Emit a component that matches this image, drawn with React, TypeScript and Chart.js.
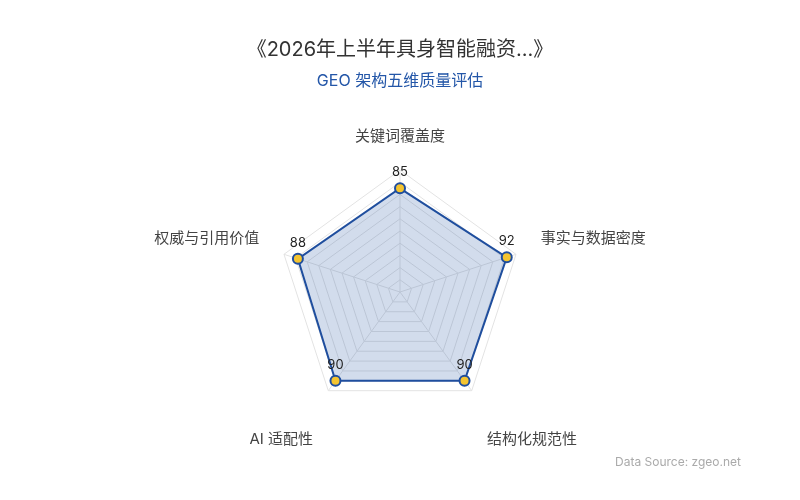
import React, { useEffect, useRef } from 'react';
import Chart from 'chart.js/auto';

// Radar axes and the scores
const axisNames = ['关键词覆盖度', '事实与数据密度', '结构化规范性', 'AI 适配性', '权威与引用价值'];
const scores = [85, 92, 90, 90, 88];

const titleText = '《2026年上半年具身智能融资...》';
const subtitleText = 'GEO 架构五维质量评估';
const sourceText = 'Data Source: zgeo.net';

const FONT = "Inter, 'Noto Sans CJK SC', sans-serif";
const BLUE = '#1f4e9e';

const App: React.FC = () => {
  const canvasRef = useRef<HTMLCanvasElement>(null);
  const chartRef = useRef<any>(null);

  useEffect(() => {
    document.body.style.margin = '0';
    if (!canvasRef.current) return;

    // axis names, value labels and the source note
    const overlayPlugin = {
      id: 'radarOverlay',
      afterDraw: (chart: any) => {
        const { ctx } = chart;
        const scale = chart.scales.r;
        ctx.save();

        ctx.font = `15px ${FONT}`;
        ctx.fillStyle = '#444444';
        axisNames.forEach((name, i) => {
          const p = scale.getPointPosition(i, scale.drawingArea + 26);
          const dx = p.x - scale.xCenter;
          const dy = p.y - scale.yCenter;
          ctx.textAlign = Math.abs(dx) < 1 ? 'center' : dx > 0 ? 'left' : 'right';
          if (dy > 0) {
            ctx.textBaseline = 'top';
            ctx.fillText(name, p.x, p.y + 20);
          } else {
            ctx.textBaseline = 'bottom';
            ctx.fillText(name, p.x, p.y);
          }
        });

        const meta = chart.getDatasetMeta(0);
        ctx.font = `13px ${FONT}`;
        ctx.fillStyle = '#222222';
        ctx.textAlign = 'center';
        ctx.textBaseline = 'middle';
        meta.data.forEach((pt: any, i: number) => {
          ctx.fillText(String(scores[i]), pt.x, pt.y - 16);
        });

        ctx.font = `12px ${FONT}`;
        ctx.fillStyle = '#aaaaaa';
        ctx.textAlign = 'right';
        ctx.fillText(sourceText, 741, 462);
        ctx.restore();
      }
    };

    chartRef.current = new Chart(canvasRef.current, {
      type: 'radar',
      data: {
        labels: axisNames,
        datasets: [{
          label: 'score',
          data: scores,
          borderColor: BLUE,
          borderWidth: 2,
          backgroundColor: 'rgba(31, 78, 158, 0.2)',
          fill: true,
          pointRadius: 5,
          pointBorderWidth: 2,
          pointBackgroundColor: '#f4c430',
          pointBorderColor: BLUE,
        }],
      },
      options: {
        responsive: true,
        maintainAspectRatio: false,
        animation: false,
        layout: { padding: { top: 0, bottom: 86, left: 0, right: 0 } },
        scales: {
          r: {
            min: 0,
            max: 100,
            ticks: { display: false, stepSize: 10 },
            grid: { color: '#e3e3e3', lineWidth: 1 },
            angleLines: { color: '#e3e3e3' },
            pointLabels: { display: false },
          },
        },
        plugins: {
          legend: { display: false },
          tooltip: { enabled: false },
          title: {
            display: true,
            text: titleText,
            color: '#333333',
            font: { size: 20, weight: 'normal', family: FONT, lineHeight: 1.2 },
            padding: { top: 38, bottom: 0 },
          },
          subtitle: {
            display: true,
            text: subtitleText,
            color: '#2356a8',
            font: { size: 16, weight: 'normal', family: FONT, lineHeight: 1.2 },
            padding: { top: 9.4, bottom: 79.4 },
          },
        },
      },
      plugins: [overlayPlugin],
    });

    return () => {
      if (chartRef.current) { chartRef.current.destroy(); chartRef.current = null; }
    };
  }, []);

  return (
    <div style={{ position: 'fixed', left: 0, top: 0, width: '800px', height: '500px', background: '#ffffff' }}>
      <canvas ref={canvasRef}></canvas>
    </div>
  );
};

export default App;
